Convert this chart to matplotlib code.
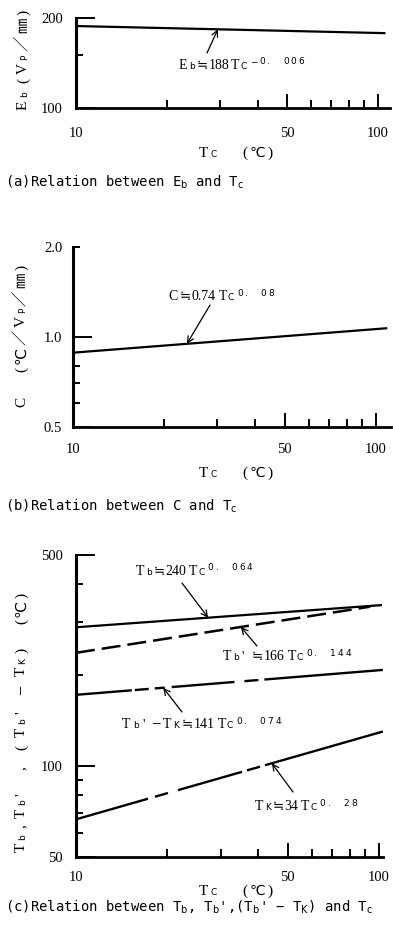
import numpy as np
import matplotlib
matplotlib.use('Agg')
import matplotlib.pyplot as plt
from matplotlib.ticker import NullFormatter

plt.rcParams['font.family'] = 'serif'
plt.rcParams['font.serif'] = ['Liberation Serif', 'DejaVu Serif']
plt.rcParams['mathtext.fontset'] = 'stix'
plt.rcParams['lines.scale_dashes'] = False

W, H = 393, 933
FAM = ['Liberation Serif', 'DejaVu Sans', 'Noto Sans CJK JP']
SMALL = ['DejaVu Sans', 'Noto Sans CJK JP']

# (a) Eb vs Tc
tc_a = [10, 105]
eb = [188, 178]
# (b) C vs Tc
tc_b = [10, 108]
c_val = [0.884, 1.067]
# (c) temperatures vs Tc
tc_tb = [10, 101.5]
tb = [288, 341]
tc_tbp = [10, 93.5]
tbp = [237, 337]
tc_diff = [10, 103]
tb_diff = [172, 208]
tc_tk = [10, 103]
tk = [66.5, 130]

x_major = [10, 50, 100]
x_major_lab = ['10', '50', '100']
x_minor = [20, 30, 40, 60, 70, 80, 90]


def px_axes(fig, left, top, right, bottom):
    return fig.add_axes([left / W, 1 - bottom / H, (right - left) / W, (bottom - top) / H])


def style(ax, xmax, ylim, ymaj, ymaj_lab, ymin, xpad, ypad):
    ax.set_xscale('log')
    ax.set_yscale('log')
    ax.set_xlim(10, xmax)
    ax.set_ylim(*ylim)
    ax.spines['top'].set_visible(False)
    ax.spines['right'].set_visible(False)
    ax.spines['left'].set_linewidth(2.2)
    ax.spines['bottom'].set_linewidth(2.0)
    ax.set_xticks(x_major, x_major_lab)
    ax.set_xticks(x_minor, minor=True)
    ax.set_yticks(ymaj, ymaj_lab)
    ax.set_yticks(ymin, minor=True)
    ax.xaxis.set_minor_formatter(NullFormatter())
    ax.yaxis.set_minor_formatter(NullFormatter())
    ax.tick_params(which='both', direction='in', width=1.4, labelsize=10.5)
    ax.tick_params(axis='x', which='major', length=10, pad=xpad)
    ax.tick_params(axis='x', which='minor', length=6)
    ax.tick_params(axis='y', which='major', length=14, pad=ypad)
    ax.tick_params(axis='y', which='minor', length=5)
    ax.patch.set_alpha(0)


def on_line(x, xs, ys):
    return 10 ** np.interp(np.log10(x), np.log10(xs), np.log10(ys))


def arrow(ax, x, xs, ys, tail):
    ax.annotate('', xy=(x, on_line(x, xs, ys)), xycoords='data',
                xytext=(tail[0], H - tail[1]), textcoords='figure pixels',
                arrowprops=dict(arrowstyle='->', lw=0.9, color='black',
                                mutation_scale=11, shrinkA=0, shrinkB=0))


fig = plt.figure(figsize=(W / 100, H / 100), dpi=100)
rend = fig.canvas.get_renderer()


def row(x, y, items, rot=0):
    # letter-spaced text: items are (text, size, raise, gap before), pixels from top-left
    pos = 0.0
    for s, size, dy, gap in items:
        pos += gap
        fam = SMALL if size < 8 else FAM
        if rot == 0:
            t = fig.text((x + pos) / W, 1 - (y - dy) / H, s, fontsize=size, family=fam,
                         ha='left', va='baseline')
            pos += t.get_window_extent(rend).width
        else:
            t = fig.text((x - dy) / W, 1 - (y - pos) / H, s, fontsize=size, family=fam,
                         rotation=90, rotation_mode='anchor', ha='left', va='baseline')
            pos += t.get_window_extent(rend).height
    return pos


M, S, U, EQ = 10, 6.5, 4.5, 9.5


def sup(chars):
    out = []
    for i, ch in enumerate(chars):
        gap = 3 if i == 0 else (13 if chars[i - 1] == '.' else 2)
        out.append((ch, S, U, gap))
    return out


def caption(y, s):
    fig.text(5 / W, 1 - y / H, s, family='DejaVu Sans Mono', math_fontfamily='dejavusans',
             fontsize=10, va='center')


def xlabel(y):
    row(199, y, [('T', 11, 0, 0), ('C', S, 0, 2), ('(', 11, 0, 26), ('℃', 10, 0, 2), (')', 11, 0, 2)])


# ---- (a)
ax1 = px_axes(fig, 76, 18, 390, 108)
style(ax1, 109.6, (100, 200), [100, 200], ['100', '200'], [150], 13.5, 9.5)
ax1.plot(tc_a, eb, color='black', lw=1.6)
arrow(ax1, 29.5, tc_a, eb, (207, 53))
row(179, 69, [('E', M, 0, 0), ('b', S, 0, 2), ('≒', EQ, 0, 1), ('188', M, 0, 1),
              ('T', M, 0, 2), ('C', S, 0, 1)] + sup('−0.006'))
xlabel(157)
row(27, 110, [('E', 11, 0, 0), ('b', S, 0, 4), ('(', 11, 0, 8), ('V', 11, 0, 4), ('P', S, 0, 3),
              ('／', 11, 0, 3), ('㎜', 11, 0, 3), (')', 11, 0, 3)], rot=90)
caption(182, r'(a)Relation between E$_{\mathrm{b}}$ and T$_{\mathrm{c}}$')

# ---- (b)
ax2 = px_axes(fig, 72.7, 246.7, 391, 426.7)
style(ax2, 112, (0.5, 2.0), [0.5, 1.0, 2.0], ['0.5', '1.0', '2.0'], [0.6, 0.7, 0.8], 11.5, 7.5)
ax2.yaxis.get_major_ticks()[2].tick1line.set_markersize(5)
ax2.plot(tc_b, c_val, color='black', lw=1.6)
arrow(ax2, 23.8, tc_b, c_val, (210, 305))
row(168, 300, [('C', M, 0, 0), ('≒', EQ, 0, 2), ('0.74', M, 0, 1), ('T', M, 0, 3),
               ('C', S, 0, 1)] + sup('0.08'))
xlabel(477)
row(25, 407, [('C', 11, 0, 0), ('(', 11, 0, 25), ('℃', 11, 0, 3), ('／', 11, 0, 2), ('V', 11, 0, 2),
              ('P', S, 0, 3), ('／', 11, 0, 2), ('㎜', 11, 0, 3), (')', 11, 0, 3)], rot=90)
caption(506, r'(b)Relation between C and T$_{\mathrm{c}}$')

# ---- (c)
ax3 = px_axes(fig, 76, 555, 383, 856.7)
style(ax3, 103.1, (50, 500), [50, 100, 500], ['50', '100', '500'],
      [60, 70, 80, 90, 200, 300, 400], 10.5, 9.5)
px = 0.72
ax3.plot(tc_tb, tb, color='black', lw=1.6)
ax3.plot(tc_tbp, tbp, color='black', lw=1.8, dashes=(19 * px, 7 * px))
ax3.plot(tc_diff, tb_diff, color='black', lw=1.7,
         dashes=[v * px for v in (56, 3, 14, 6, 10, 7, 63, 10, 14, 6, 160, 1)])
ax3.plot(tc_tk, tk, color='black', lw=1.7,
         dashes=[v * px * 1.04 for v in (72, 7, 13, 10, 64, 5, 13, 5, 160, 1)])
arrow(ax3, 27.3, tc_tb, tb, (182, 583))
arrow(ax3, 35.0, tc_tbp, tbp, (257, 646))
arrow(ax3, 19.4, tc_diff, tb_diff, (182, 712))
arrow(ax3, 44.3, tc_tk, tk, (293, 792))
row(136, 575, [('T', M, 0, 0), ('b', S, 0, 2), ('≒', EQ, 0, 1), ('240', M, 0, 1),
               ('T', M, 0, 3), ('C', S, 0, 1)] + sup('0.064'))
row(223, 660, [('T', M, 0, 0), ('b', S, 0, 2), ("'", M, 0, 2), ('≒', EQ, 0, 8), ('166', M, 0, 1),
               ('T', M, 0, 3), ('C', S, 0, 1)] + sup('0.144'))
row(122, 728, [('T', M, 0, 0), ('b', S, 0, 3), ("'", M, 0, 3), ('−', 12, 0, 7), ('T', M, 0, 2),
               ('K', S, 0, 2), ('≒', EQ, 0, 2), ('141', M, 0, 1),
               ('T', M, 0, 3), ('C', S, 0, 1)] + sup('0.074'))
row(255, 810, [('T', M, 0, 0), ('K', S, 0, 2), ('≒', EQ, 0, 1), ('34', M, 0, 1),
               ('T', M, 0, 3), ('C', S, 0, 1)] + sup('0.28'))
xlabel(895)
row(25, 852, [('T', 11, 0, 0), ('b', S, 0, 3), (',', 11, 0, 6), ('T', 11, 0, 6), ('b', S, 0, 4),
              ("'", 11, 0, 3), (',', 11, 0, 23), ('(', 11, 0, 16), ('T', 11, 0, 8), ('b', S, 0, 4),
              ("'", 11, 0, 4), ('−', 13, 0, 17), ('T', 11, 0, 9), ('K', S, 0, 2), (')', 11, 0, 5),
              ('(', 11, 0, 24), ('℃', 11, 0, 2), (')', 11, 0, 2)], rot=90)
caption(907, r"(c)Relation between T$_{\mathrm{b}}$, T$_{\mathrm{b}}$',(T$_{\mathrm{b}}$' − T$_{\mathrm{K}}$) and T$_{\mathrm{c}}$")

fig.savefig('out.png', dpi=100)
